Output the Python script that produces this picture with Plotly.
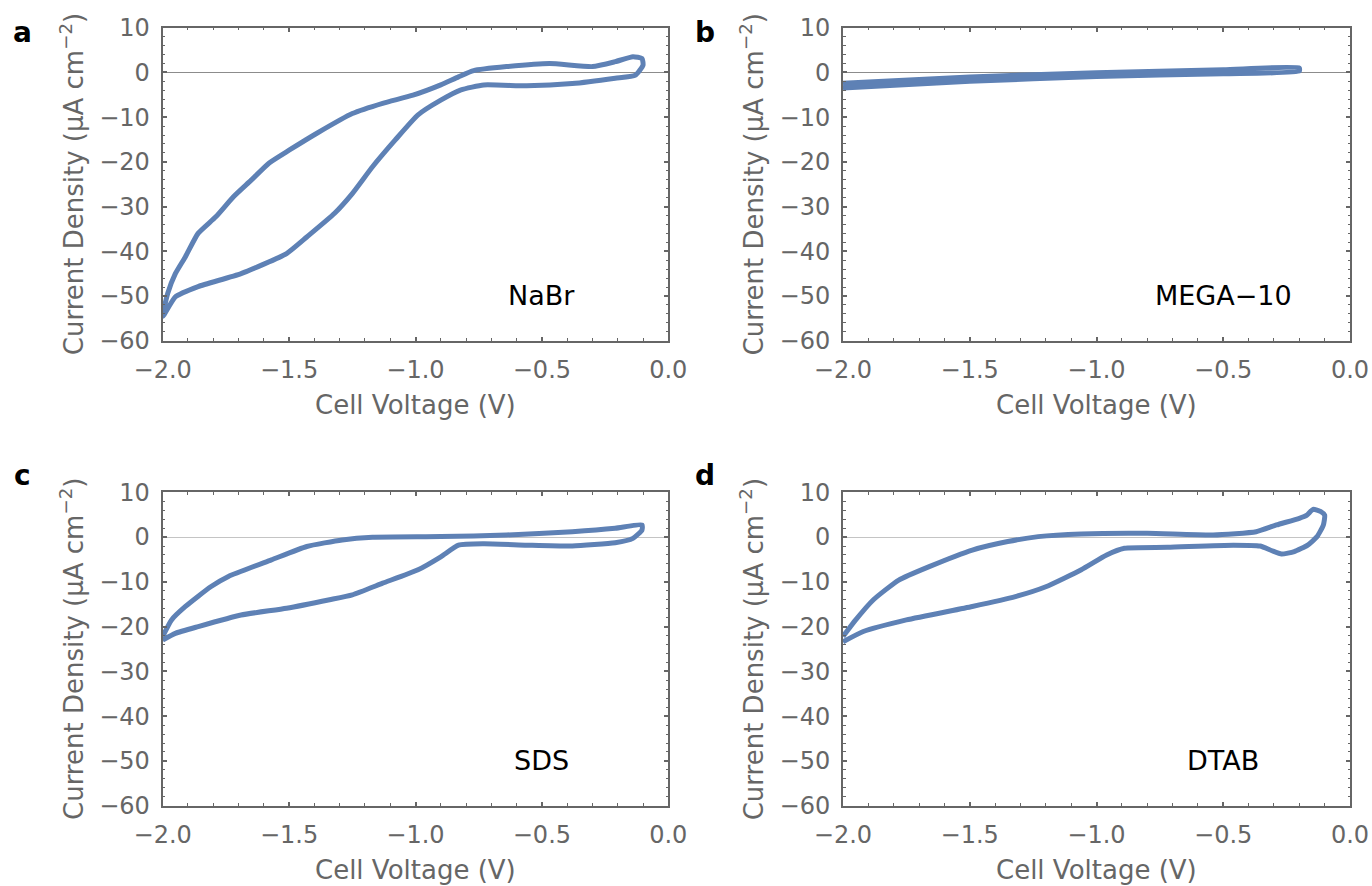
import plotly.graph_objects as go

# ---------------- data ----------------
# Panel a: NaBr cyclic voltammogram (closed loop)
nabr_v = [-2.00, -1.98, -1.95, -1.91, -1.86, -1.79, -1.72, -1.65, -1.58, -1.50,
          -1.39, -1.25, -1.13, -1.01, -0.90, -0.83, -0.77, -0.64, -0.47, -0.30,
          -0.21, -0.14, -0.104, -0.10, -0.13, -0.21, -0.38, -0.56, -0.73, -0.82,
          -0.90, -0.99, -1.08, -1.17, -1.25, -1.32, -1.43, -1.51, -1.69, -1.86,
          -1.95, -2.00]
nabr_j = [-54.6, -49.4, -45.0, -41.2, -36.0, -32.3, -27.8, -24.1, -20.3, -17.4,
          -13.6, -9.2, -6.9, -5.1, -2.8, -1.0, 0.4, 1.3, 2.0, 1.3,
          2.4, 3.5, 3.1, 1.65, -0.6, -1.3, -2.5, -3.0, -2.8, -3.9,
          -6.2, -9.5, -15.1, -21.1, -27.1, -31.5, -36.8, -40.5, -45.0, -47.9,
          -50.2, -54.6]

# Panel b: MEGA-10
mega_v = [-2.00, -1.50, -1.00, -0.50, -0.20, -0.20, -0.50, -1.00, -1.50, -2.00]
mega_j = [-2.4, -1.0, -0.1, 0.6, 1.0, 0.3, -0.3, -0.9, -2.0, -3.5]

# Panel c: SDS
sds_v = [-2.00, -1.965, -1.91, -1.81, -1.74, -1.57, -1.43, -1.29, -1.17, -0.90,
         -0.64, -0.38, -0.21, -0.104, -0.104, -0.14, -0.21, -0.38, -0.56, -0.73,
         -0.83, -0.90, -0.99, -1.13, -1.25, -1.34, -1.51, -1.69, -1.86, -1.95,
         -2.00]
sds_j = [-22.2, -18.5, -15.5, -11.1, -8.8, -5.1, -2.1, -0.65, -0.05, 0.1,
         0.47, 1.2, 1.96, 2.7, 1.6, -0.3, -1.25, -2.0, -1.8, -1.5,
         -1.8, -4.4, -7.3, -10.3, -12.9, -14.0, -15.9, -17.4, -20.0, -21.5,
         -23.0]

# Panel d: DTAB
dtab_v = [-2.00, -1.95, -1.88, -1.78, -1.66, -1.49, -1.35, -1.23, -1.06, -0.80,
          -0.54, -0.37, -0.29, -0.20, -0.17, -0.146, -0.115, -0.10, -0.105, -0.13,
          -0.167, -0.22, -0.27, -0.31, -0.355, -0.46, -0.72, -0.89, -0.96, -1.06,
          -1.20, -1.32, -1.49, -1.75, -1.92, -2.00]
dtab_j = [-22.2, -18.5, -14.0, -9.6, -6.6, -2.9, -1.0, 0.1, 0.7, 0.84,
          0.47, 1.2, 2.7, 4.2, 4.9, 6.2, 5.7, 4.9, 2.7, 0.1,
          -1.8, -3.25, -3.8, -3.0, -2.0, -1.8, -2.3, -2.5, -4.0, -7.3,
          -11.1, -13.3, -15.5, -18.5, -21.1, -23.4]

panel_letters = ["a", "b", "c", "d"]
sample_names = ["NaBr", "MEGA\u221210", "SDS", "DTAB"]
x_ticks = [-2.0, -1.5, -1.0, -0.5, 0.0]
y_ticks = [10, 0, -10, -20, -30, -40, -50, -60]
x_title = "Cell Voltage (V)"
y_title = "Current Density (\u00b5A cm<sup>\u22122</sup>)"

series = [(nabr_v, nabr_j), (mega_v, mega_j), (sds_v, sds_j), (dtab_v, dtab_j)]

# ---------------- layout geometry (window pixels of the reference) ----------------
W, H = 1372, 886


def px(x):
    return x / W


def py(y):
    return 1 - y / H


x_doms = [(px(162.7), px(668.3)), (px(843.0), px(1350.0))]
y_doms = [(py(340.7), py(27.7)), (py(805.7), py(492.3))]

LINE_COLOR = "#5e81b5"
FRAME = "#666666"
FONT = "DejaVu Sans, Liberation Sans, sans-serif"
zero_colors = ["#8c8c8c", "#8c8c8c", "#c4c4c4", "#c4c4c4"]

fig = go.Figure()
annotations = []

for i, (vv, jj) in enumerate(series):
    row, col = divmod(i, 2)
    ax = "" if i == 0 else str(i + 1)
    fig.add_trace(go.Scatter(
        x=vv, y=jj, mode="lines",
        line=dict(color=LINE_COLOR, width=5, shape="spline", smoothing=0.5),
        xaxis="x" + ax, yaxis="y" + ax, showlegend=False, hoverinfo="skip"))

    common = dict(showline=True, linecolor=FRAME, linewidth=2, mirror="allticks",
                  ticks="inside", tickcolor=FRAME, tickwidth=1.5, ticklen=4,
                  showgrid=False, automargin=False,
                  tickfont=dict(family=FONT, size=24, color=FRAME))
    fig.layout["xaxis" + ax] = dict(
        common, domain=x_doms[col], range=[-2, 0], tickvals=x_ticks,
        tickformat=".1f", zeroline=False, anchor="y" + ax, ticklabelstandoff=6,
        minor=dict(dtick=0.1, ticks="inside", ticklen=2.5, tickcolor=FRAME, tickwidth=1.2))
    fig.layout["yaxis" + ax] = dict(
        common, domain=y_doms[row], range=[-60, 10], tickvals=y_ticks,
        zeroline=True, zerolinecolor=zero_colors[i], zerolinewidth=1.2,
        anchor="x" + ax, ticklabelstandoff=6,
        minor=dict(dtick=2, ticks="inside", ticklen=2.5, tickcolor=FRAME, tickwidth=1.2))

    xc = (x_doms[col][0] + x_doms[col][1]) / 2
    yc = (y_doms[row][0] + y_doms[row][1]) / 2
    # y-axis title
    annotations.append(dict(
        text=y_title, textangle=-90, xref="paper", yref="paper",
        x=px(72 + 680.3 * col), y=yc, xanchor="center", yanchor="middle",
        showarrow=False, font=dict(family=FONT, size=26, color=FRAME)))
    # x-axis title
    annotations.append(dict(
        text=x_title, xref="paper", yref="paper",
        x=xc, y=y_doms[row][0] - 64 / H, xanchor="center", yanchor="middle",
        showarrow=False, font=dict(family=FONT, size=26, color=FRAME)))
    # panel letter
    annotations.append(dict(
        text="<b>" + panel_letters[i] + "</b>", xref="paper", yref="paper",
        x=px(22 + 683 * col), y=py(32 + 443 * row),
        xanchor="center", yanchor="middle", showarrow=False,
        font=dict(family=FONT, size=28, color="black")))
    # sample label
    annotations.append(dict(
        text=sample_names[i], xref="x" + ax, yref="y" + ax, x=-0.5, y=-50,
        xanchor="center", yanchor="middle", showarrow=False,
        font=dict(family=FONT, size=27, color="black")))

fig.update_layout(
    width=W, height=H, margin=dict(l=0, r=0, t=0, b=0, autoexpand=False),
    paper_bgcolor="white", plot_bgcolor="white",
    annotations=annotations, showlegend=False)

# remove the default page margin so the figure fills the window exactly
fig.write_html("out.html",
               config={"displayModeBar": False},
               post_script="document.body.style.margin='0';"
                           "document.body.style.overflow='hidden';")
